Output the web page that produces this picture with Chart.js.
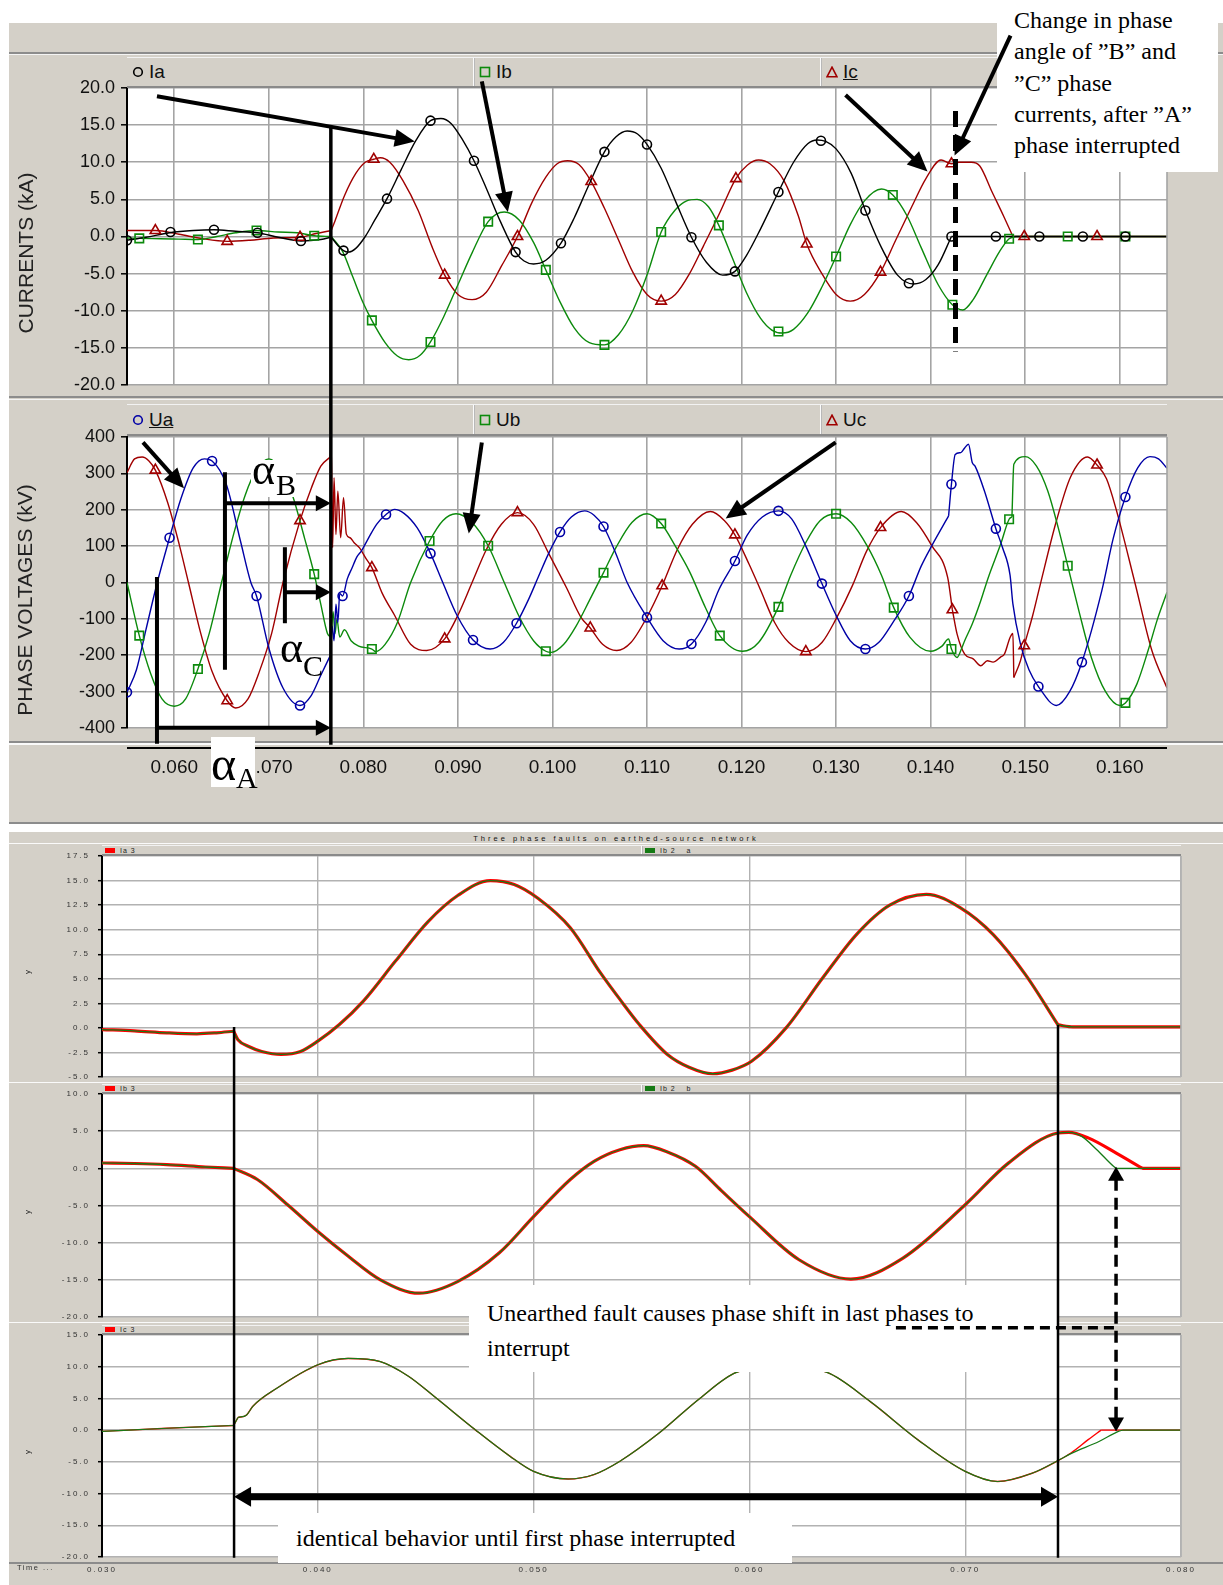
<!DOCTYPE html>
<html lang="en">
<head>
<meta charset="utf-8">
<title>Fault currents and phase voltages</title>
<script src="https://cdn.jsdelivr.net/npm/chart.js@4.4.1/dist/chart.umd.min.js"></script>
<style>
html,body{margin:0;padding:0;background:#fff}
body{position:relative;width:1223px;height:1585px;overflow:hidden;font-family:"Liberation Sans",Arial,sans-serif}
.panel{position:absolute;background:#d4d0c8}
.rule{position:absolute}
canvas.chart{position:absolute;z-index:1}
#overlay{position:absolute;left:0;top:0;z-index:10;pointer-events:none}
.lbar{position:absolute;z-index:2;display:flex;background:#d4d0c8;box-sizing:border-box;border-bottom:2px solid #8a8a8a;border-top:1px solid #f2f2f2}
.lcell{flex:1 1 0;display:flex;align-items:center;box-sizing:border-box;border-left:1px solid #fbfbfb;box-shadow:inset 1px 0 0 #b8b8b8;padding-left:5px;gap:5px;font-size:19px;color:#111;white-space:nowrap;overflow:hidden}
.lcell:first-child{border-left:none;box-shadow:none}
.small .lcell{font-size:7px;gap:5px;padding-left:3px;letter-spacing:1px;color:#222}
.sw{display:inline-block;width:10px;height:5px}
.note{position:absolute;z-index:5;background:#fff;font-family:"Liberation Serif","Times New Roman",serif;font-size:24px;color:#000;box-sizing:border-box;white-space:nowrap}
.vtitle{position:absolute;z-index:3;white-space:nowrap;transform:translate(-50%,-50%) rotate(-90deg);color:#222}
.greek{position:absolute;z-index:6;font-family:"Liberation Serif","Times New Roman",serif;line-height:1;color:#000;white-space:nowrap}
.gbox{position:absolute;z-index:5;background:#fff}
.tiny{position:absolute;z-index:3;font-size:7.5px;letter-spacing:2px;color:#333;white-space:nowrap}
</style>
</head>
<body>
<!-- upper recorder window -->
<div class="panel" style="left:9px;top:23px;width:1214px;height:801px"></div>
<div class="rule" style="left:9px;top:52px;width:1214px;height:2px;background:#8c8c8c"></div>
<div class="rule" style="left:9px;top:54px;width:1214px;height:1px;background:#f4f4f4"></div>
<div class="rule" style="left:9px;top:396px;width:1214px;height:2px;background:#8c8c8c"></div>
<div class="rule" style="left:9px;top:399px;width:1214px;height:1px;background:#f4f4f4"></div>
<div class="rule" style="left:9px;top:741px;width:1214px;height:2px;background:#8c8c8c"></div>
<div class="rule" style="left:9px;top:743px;width:1214px;height:2px;background:#fafafa"></div>
<div class="rule" style="left:127px;top:747px;width:1040px;height:2px;background:#000;z-index:2"></div>
<div class="rule" style="left:9px;top:822px;width:1214px;height:2px;background:#8c8c8c"></div>

<!-- lower simulation window -->
<div class="panel" style="left:9px;top:832px;width:1214px;height:753px"></div>
<div class="rule" style="left:9px;top:843px;width:1214px;height:1px;background:#fafafa"></div>
<div class="rule" style="left:9px;top:1082px;width:1214px;height:1px;background:#fafafa"></div>
<div class="rule" style="left:9px;top:1322px;width:1214px;height:1px;background:#fafafa"></div>
<div class="rule" style="left:9px;top:1562px;width:1214px;height:2px;background:#8c8c8c"></div>

<div class="tiny" style="left:616px;top:838px;transform:translate(-50%,-50%);letter-spacing:3px;color:#111">Three phase faults on earthed-source network</div>
<div class="tiny" style="left:17px;top:1563px;letter-spacing:1.5px">Time ...</div>

<div class="vtitle" style="left:26px;top:253px;font-size:21px">CURRENTS (kA)</div>
<div class="vtitle" style="left:25px;top:600px;font-size:21px">PHASE VOLTAGES (kV)</div>
<div class="vtitle" style="left:27px;top:972px;font-size:8px">y</div>
<div class="vtitle" style="left:27px;top:1212px;font-size:8px">y</div>
<div class="vtitle" style="left:27px;top:1452px;font-size:8px">y</div>

<!-- explanatory notes -->
<div class="note" style="left:997px;top:0;width:221px;height:172px;padding:5px 0 0 17px;line-height:31.3px">Change in phase<br>angle of &#8221;B&#8221; and<br>&#8221;C&#8221; phase<br>currents, after &#8221;A&#8221;<br>phase interrupted</div>
<div class="note" style="left:469px;top:1285px;width:588px;height:87px;padding:11px 0 0 18px;line-height:35px">Unearthed fault causes phase shift in last phases to<br>interrupt</div>
<div class="note" style="left:278px;top:1513px;width:514px;height:50px;padding:0 0 0 18px;line-height:50px">identical behavior until first phase interrupted</div>

<canvas id="overlay" width="1223" height="1585"></canvas>

<script>
// ---------------- recorded currents (kA), time in ms ----------------
const IA_T = [55.0,57.0,59.5,62.0,64.2,66.5,68.8,71.0,73.4,75.5,76.6,77.3,77.9,78.4,79.2,80.2,81.2,82.5,84.0,85.5,87.1,88.2,89.3,90.5,91.7,93.0,94.5,96.1,97.0,98.0,99.3,100.9,102.3,103.8,105.5,106.7,107.9,109.0,110.0,111.5,113.0,114.7,116.3,118.0,119.3,120.5,122.0,123.9,125.5,127.0,128.0,128.9,130.0,131.6,133.1,134.8,136.5,138.2,139.5,140.8,142.2,165.0];
const IA_V = [-0.5,-0.1,0.5,0.8,0.9,0.7,0.5,-0.1,-0.6,-0.4,-0.1,-1.2,-1.9,-2.1,-1.6,0.0,2.2,5.1,9.0,12.8,15.6,15.9,15.2,13.0,10.2,6.5,2.0,-2.1,-3.3,-3.7,-3.2,-0.9,2.5,6.8,11.4,13.4,14.2,13.8,12.4,9.2,4.8,-0.1,-3.5,-5.2,-4.7,-2.6,1.0,6.0,10.0,12.5,13.0,12.8,11.8,8.5,3.5,-1.5,-5.2,-6.4,-5.8,-3.8,0.0,0.0];
const IB_T = [55.0,56.3,58.5,60.5,62.5,64.5,66.5,68.7,71.0,73.0,74.8,76.6,77.8,78.9,80.0,80.9,82.3,83.6,84.8,86.0,87.1,88.5,90.0,91.5,93.2,94.9,96.5,98.0,99.3,100.8,102.3,103.9,105.5,107.0,108.5,110.0,111.5,113.0,114.2,115.3,116.5,117.6,119.0,120.5,122.0,123.2,124.3,125.5,127.0,128.5,130.0,131.5,133.0,134.8,136.0,137.5,139.0,140.8,142.3,143.4,144.5,146.0,147.3,148.3,149.0,165.0];
const IB_V = [-0.2,-0.25,-0.3,-0.35,-0.4,0.0,0.5,0.8,0.6,0.5,0.1,0.0,-2.0,-5.5,-9.0,-11.3,-14.3,-16.1,-16.6,-16.0,-14.2,-10.8,-6.5,-2.2,2.0,3.3,2.2,-0.8,-4.5,-8.8,-12.3,-14.3,-14.6,-13.2,-10.0,-5.2,0.6,3.6,4.8,5.0,4.0,1.5,-2.8,-7.5,-11.0,-12.6,-13.0,-12.5,-10.3,-6.8,-2.7,1.6,4.8,6.4,5.6,2.8,-1.5,-6.5,-9.2,-9.9,-8.5,-5.0,-2.0,-0.3,0.0,0.0];
const IC_T = [55.0,57.0,58.0,60.5,63.0,65.6,68.0,70.5,73.3,75.0,76.6,77.0,78.0,79.2,80.2,81.1,81.8,82.8,84.2,85.8,87.3,88.6,90.0,91.5,93.0,94.6,96.3,97.8,99.3,100.5,101.6,102.8,104.1,105.5,107.0,108.5,110.0,111.5,113.0,114.5,116.0,117.7,119.4,120.6,121.8,123.0,124.5,126.0,126.9,128.5,130.0,131.5,133.0,134.7,136.3,138.0,139.5,141.1,142.2,143.0,144.3,145.2,146.5,147.7,148.7,165.0];
const IC_V = [0.8,0.8,0.8,0.3,-0.3,-0.65,-0.5,-0.2,-0.1,0.4,0.8,2.1,5.5,8.5,10.0,10.4,10.6,10.0,7.5,3.5,-1.5,-5.2,-7.8,-8.5,-7.5,-4.0,0.0,4.5,8.0,9.8,10.2,9.7,7.4,3.8,-0.5,-4.8,-7.8,-8.7,-7.8,-5.0,-1.2,3.2,7.8,9.6,10.3,9.8,7.5,2.8,-1.0,-5.0,-7.8,-8.7,-7.8,-4.8,-0.5,4.0,7.8,10.3,9.8,10.0,10.0,9.5,6.0,2.8,0.0,0.0];
// recorder sample markers
const IA_MARK_T = [55.0,59.6,64.2,68.8,73.4,77.9,82.5,87.1,91.7,96.1,100.9,105.5,110.0,114.7,119.3,123.9,128.4,133.1,137.7,142.2,146.9,151.5,156.1,160.6];
const IA_MARK_V = [-0.5,0.6,0.9,0.5,-0.6,-1.9,5.1,15.6,10.2,-2.1,-0.9,11.4,12.4,-0.1,-4.7,6.0,12.9,3.5,-6.3,0.0,0.0,0.0,0.0,0.0];
const IB_MARK_T = [56.3,62.5,68.7,74.8,80.9,87.1,93.2,99.3,105.5,111.5,117.6,123.9,130.0,136.0,142.3,148.3,154.5,160.6];
const IB_MARK_V = [-0.25,-0.4,0.8,0.1,-11.3,-14.2,2.0,-4.5,-14.6,0.6,1.5,-12.8,-2.7,5.6,-9.2,-0.3,0.0,0.0];
const IC_MARK_T = [58.0,65.6,73.3,81.1,88.6,96.3,104.1,111.5,119.4,126.9,134.7,142.2,149.9,157.6];
const IC_MARK_V = [0.8,-0.65,-0.1,10.4,-5.2,0.0,7.4,-8.7,7.8,-1.0,-4.8,9.8,0.0,0.0];

// ---------------- recorded phase voltages (kV), time in ms ----------------
const UA_T = [55.0,56.0,57.0,58.2,59.5,60.7,62.0,63.2,64.0,65.5,67.0,68.1,68.7,70.0,71.5,73.3,74.5,75.5,76.5,76.7,76.9,77.1,77.3,77.5,77.8,78.3,78.8,79.3,79.8,80.5,81.4,82.4,83.3,84.3,85.7,87.1,88.4,89.9,91.6,93.4,94.8,96.2,97.5,98.5,99.6,100.8,102.0,103.4,104.4,105.4,106.7,107.9,110.0,111.7,113.4,114.7,116.2,117.6,119.3,120.6,122.2,123.9,125.3,126.8,128.5,130.0,131.5,133.1,134.5,136.0,137.7,139.0,140.1,141.9,142.2,142.6,143.2,143.6,144.0,144.4,144.7,145.7,146.9,147.6,148.4,148.7,149.5,150.4,151.4,153.3,154.7,156.0,158.1,159.3,160.6,161.9,163.2,164.1,165.0];
const UA_V = [-302,-240,-130,0,123,230,315,340,334,270,114,0,-37,-180,-290,-338,-310,-255,-201,-120,-160,-60,-110,-30,-37,10,40,70,87,120,160,187,201,190,150,80,0,-90,-158,-183,-165,-112,-45,15,80,139,180,197,185,154,80,0,-96,-160,-183,-169,-110,-20,59,130,180,197,175,100,-3,-90,-160,-183,-165,-110,-37,45,100,183,270,352,357,370,380,330,320,251,148,96,20,-59,-169,-240,-286,-338,-300,-219,-23,120,235,315,346,340,314];
const UB_T = [55.0,56.3,57.5,58.7,60.0,61.2,62.5,63.7,65.0,66.3,67.5,68.7,70.0,71.3,72.5,73.8,74.8,75.5,76.2,76.6,76.8,77.0,77.2,77.5,78.0,78.7,79.5,80.9,81.3,82.3,83.6,85.0,87.0,88.4,89.8,91.5,93.2,94.9,96.5,98.0,99.3,99.9,101.2,102.5,103.9,105.4,106.8,108.4,110.0,111.5,113.0,114.5,116.2,117.7,120.1,121.8,123.9,125.2,126.8,128.3,130.0,131.6,133.3,134.8,136.1,137.8,140.0,141.2,141.9,142.2,142.8,143.3,143.6,144.4,145.3,146.1,147.4,148.3,148.6,148.8,150.0,151.2,152.4,153.5,154.5,155.7,157.0,158.5,160.0,160.6,161.8,163.0,164.0,165.0];
const UB_V = [0,-146,-250,-320,-340,-320,-238,-140,0,135,240,310,340,310,240,120,23,-60,-140,-150,-80,-140,-100,-150,-130,-160,-175,-183,-190,-170,-110,0,114,170,189,165,101,0,-95,-160,-189,-192,-170,-120,-50,27,100,165,189,162,100,30,-70,-146,-189,-165,-67,20,110,170,189,165,100,20,-69,-150,-189,-175,-155,-183,-206,-180,-160,-114,-50,14,105,174,180,325,346,320,251,150,46,-80,-206,-300,-338,-331,-280,-187,-100,-27];
const UC_T = [55.0,55.8,56.6,57.3,58.0,59.3,60.5,61.5,62.8,64.0,65.6,66.5,67.8,69.0,70.3,71.5,73.3,74.5,75.5,76.5,76.6,76.75,76.9,77.1,77.3,77.6,77.9,78.2,78.6,79.0,79.6,80.3,80.9,82.0,83.3,85.0,86.7,88.6,90.0,91.5,93.0,94.6,96.3,98.0,99.6,101.5,103.0,104.0,105.3,106.8,108.3,110.0,111.6,113.2,114.8,116.7,118.2,119.3,120.8,122.0,123.5,125.0,126.8,128.5,130.0,131.7,133.2,134.7,136.9,138.5,140.1,141.8,142.3,142.8,143.6,144.5,145.3,146.0,146.6,147.4,147.8,148.4,148.7,148.8,149.5,149.9,150.8,151.6,153.3,154.8,156.6,157.6,158.6,159.6,161.6,163.4,165.0];
const UC_V = [302,340,345,335,309,220,107,0,-140,-245,-325,-345,-320,-245,-140,0,170,260,320,345,380,96,288,132,251,123,233,133,123,110,95,65,41,-30,-90,-170,-187,-155,-90,0,90,160,192,160,80,-15,-95,-125,-170,-187,-165,-95,-9,90,160,195,170,131,50,-20,-110,-165,-190,-165,-100,-10,85,151,195,165,102,14,-75,-142,-197,-210,-229,-215,-219,-205,-197,-151,-140,-261,-215,-174,-90,-5,169,290,345,323,285,203,0,-187,-290];
const UA_MARK_T = [55.0,59.5,64.0,68.7,73.3,77.8,82.4,87.1,91.6,96.2,100.8,105.4,110.0,114.7,119.3,123.9,128.5,133.1,137.7,142.2,146.9,151.4,156.0,160.6];
const UA_MARK_V = [-302,123,334,-37,-338,-37,187,80,-158,-112,139,154,-96,-169,59,197,-3,-183,-37,270,148,-286,-219,235];
const UB_MARK_T = [56.3,62.5,68.7,74.8,80.9,87.0,93.2,99.3,105.4,111.5,117.7,123.9,130.0,136.1,142.2,148.3,154.5,160.6];
const UB_MARK_V = [-146,-238,310,23,-183,114,101,-189,27,162,-146,-67,189,-69,-183,174,46,-331];
const UC_MARK_T = [58.0,65.6,73.3,80.9,88.6,96.3,104.0,111.6,119.3,126.8,134.7,142.3,149.9,157.6];
const UC_MARK_V = [309,-325,170,41,-155,192,-125,-9,131,-190,151,-75,-174,323];

// ---------------- simulated phase currents (kA), time in ms ----------------
const P1_T = [30.0,31.5,33.0,34.4,35.3,36.1,36.3,36.8,37.4,38.3,39.2,40.0,41.0,42.1,43.6,45.1,46.5,48.0,49.1,50.2,51.7,53.1,54.0,54.9,56.2,57.2,58.3,59.2,60.1,61.7,63.4,65.0,66.5,68.2,69.8,71.3,72.8,74.3,75.0,80.0];
const P1_IA3 = [-0.17,-0.3,-0.5,-0.6,-0.5,-0.34,-1.2,-1.9,-2.4,-2.7,-2.4,-1.35,0.34,2.7,6.8,10.8,13.5,15.0,14.6,13.2,10.2,5.6,2.9,0.34,-2.7,-4.0,-4.67,-4.3,-3.4,0.0,5.1,9.6,12.5,13.6,12.2,9.5,5.4,0.3,0.1,0.1];
const P1_IB2A = [-0.17,-0.3,-0.5,-0.6,-0.5,-0.34,-1.2,-1.9,-2.4,-2.7,-2.4,-1.35,0.34,2.7,6.8,10.8,13.5,15.0,14.6,13.2,10.2,5.6,2.9,0.34,-2.7,-4.0,-4.67,-4.3,-3.4,0.0,5.1,9.6,12.5,13.6,12.2,9.5,5.4,0.3,0.1,0.1];
const P2_RED_T = [30.0,31.5,33.0,34.8,36.1,37.2,38.6,40.0,41.4,42.9,44.7,46.5,48.4,50.0,51.7,52.8,54.0,55.1,56.2,57.5,58.7,60.0,62.3,64.7,67.1,70.0,72.0,74.3,74.8,75.7,77.0,78.1,78.2,80.0];
const P2_RED_V = [0.72,0.65,0.5,0.18,0.0,-1.5,-4.9,-8.5,-11.8,-15.0,-16.8,-15.2,-11.4,-6.5,-1.5,0.94,2.5,3.05,2.2,0.27,-3.0,-6.5,-12.3,-14.9,-12.1,-4.9,0.7,4.75,4.84,4.1,2.06,0.18,0.0,0.0];
const P2_GRN_T = [30.0,31.5,33.0,34.8,36.1,37.2,38.6,40.0,41.4,42.9,44.7,46.5,48.4,50.0,51.7,52.8,54.0,55.1,56.2,57.5,58.7,60.0,62.3,64.7,67.1,70.0,72.0,74.3,74.8,75.4,76.1,76.9,77.0,80.0];
const P2_GRN_V = [0.72,0.65,0.5,0.18,0.0,-1.5,-4.9,-8.5,-11.8,-15.0,-16.8,-15.2,-11.4,-6.5,-1.5,0.94,2.5,3.05,2.2,0.27,-3.0,-6.5,-12.3,-14.9,-12.1,-4.9,0.7,4.75,4.84,4.3,2.5,0.2,0.0,0.0];
const P3_RED_T = [30.0,33.0,36.1,36.3,36.7,37.0,38.1,40.0,41.4,42.9,44.2,45.4,47.3,48.9,50.0,51.6,52.8,54.0,55.8,57.7,59.4,61.5,63.6,65.6,67.8,70.0,71.5,73.1,74.3,74.9,75.7,76.3,80.0];
const P3_RED_V = [-0.2,0.3,0.73,2.0,2.4,3.8,6.6,10.3,11.3,10.8,8.5,5.3,0.05,-4.1,-6.5,-7.7,-7.0,-4.9,-0.5,5.0,9.1,10.0,9.1,4.5,-1.5,-6.5,-8.1,-6.8,-4.8,-3.6,-1.5,0.0,0.0];
const P3_GRN_T = [30.0,33.0,36.1,36.3,36.7,37.0,38.1,40.0,41.4,42.9,44.2,45.4,47.3,48.9,50.0,51.6,52.8,54.0,55.8,57.7,59.4,61.5,63.6,65.6,67.8,70.0,71.5,73.1,74.3,74.9,76.2,77.1,77.3,80.0];
const P3_GRN_V = [-0.2,0.3,0.73,2.0,2.4,3.8,6.6,10.3,11.3,10.8,8.5,5.3,0.05,-4.1,-6.5,-7.7,-7.0,-4.9,-0.5,5.0,9.1,10.0,9.1,4.5,-1.5,-6.5,-8.1,-6.8,-4.8,-3.7,-1.8,-0.2,0.0,0.0];

// switching instants (ms) where a trace has a sharp corner
const IA_CORNERS = [76.6, 142.2];
const IB_CORNERS = [76.6, 149.0];
const IC_CORNERS = [76.6, 148.7];
const UA_CORNERS = [76.5, 141.9];
const UB_CORNERS = [76.6, 148.6];
const UC_CORNERS = [76.5, 142.3, 148.8];
const P1_CORNERS = [36.1, 74.3];
const P2_RED_CORNERS = [36.1, 78.2];
const P2_GRN_CORNERS = [36.1, 77.0];
const P3_RED_CORNERS = [36.1, 36.3, 76.3];
const P3_GRN_CORNERS = [36.1, 36.3, 77.3];

// ---------------- axes ----------------
const TOP_X_TICKS = [60,70,80,90,100,110,120,130,140,150,160];
const CURRENT_TICKS = [20,15,10,5,0,-5,-10,-15,-20];
const VOLTAGE_TICKS = [400,300,200,100,0,-100,-200,-300,-400];
const BOT_X_TICKS = [30,40,50,60,70,80];
const P1_TICKS = [17.5,15,12.5,10,7.5,5,2.5,0,-2.5,-5];
const P2_TICKS = [10,5,0,-5,-10,-15,-20];
const P3_TICKS = [15,10,5,0,-5,-10,-15,-20];

const CURRENT_NAMES = ['Ia','Ib','Ic'];
const VOLTAGE_NAMES = ['Ua','Ub','Uc'];
const SIM_NAMES = [['Ia 3','Ib 2 _ a'],['Ib 3','Ib 2 _ b'],['Ic 3']];

// ---------------- styling ----------------
const COL = { black:'#000000', green:'#0c8a0c', dred:'#a00000', blue:'#0000a6', red:'#ff0000', sgreen:'#157a15' };
const SANS = '"Liberation Sans", Arial, sans-serif';
Chart.defaults.font.family = SANS;
Chart.defaults.animation = false;

const pts = (T, V) => T.map((t, i) => ({ x: t, y: V[i] }));
const line = (T, V, color, width, order) => ({ data: pts(T, V), borderColor: color, borderWidth: width, pointRadius: 0, cubicInterpolationMode: 'monotone', fill: false, order: order || 0 });
// one smooth trace per interval between switching instants, so corners stay sharp
function trace(T, V, color, width, order, corners) {
  const edges = [T[0]].concat(corners || [], [T[T.length - 1]]);
  const out = [];
  for (let k = 0; k < edges.length - 1; k++) {
    const idx = [];
    T.forEach((t, i) => { if (t >= edges[k] && t <= edges[k + 1]) idx.push(i); });
    out.push(line(idx.map(i => T[i]), idx.map(i => V[i]), color, width, order));
  }
  return out;
}
const marks = (T, V, color, style, r) => ({ data: pts(T, V), showLine: false, pointStyle: style, pointRadius: r, pointBorderWidth: 1.6, pointBorderColor: color, pointBackgroundColor: 'rgba(0,0,0,0)', borderColor: color, backgroundColor: 'rgba(0,0,0,0)', order: 0 });

const framePlugin = {
  id: 'frame',
  beforeDraw(c, a, o) {
    const ar = c.chartArea, g = c.ctx;
    g.save(); g.fillStyle = '#fff'; g.fillRect(ar.left, ar.top, ar.right - ar.left, ar.bottom - ar.top); g.restore();
    if (o.spacing) g.letterSpacing = o.spacing;
  },
  afterDraw(c, a, o) {
    const ar = c.chartArea, g = c.ctx;
    g.letterSpacing = '0px';
    g.save(); g.strokeStyle = o.edge || '#a0a0a0'; g.lineWidth = 1.6;
    g.beginPath(); g.moveTo(ar.right, ar.top); g.lineTo(ar.right, ar.bottom); g.stroke();
    g.restore();
  }
};

// label overhang must not shrink the plot rectangle
const noPad = s => { s.paddingLeft = 0; s.paddingRight = 0; s.paddingTop = 0; s.paddingBottom = 0; };

function makeChart(box, plot, o) {
  const cv = document.createElement('canvas');
  cv.className = 'chart';
  cv.width = box.w; cv.height = box.h;
  Object.assign(cv.style, { left: box.x + 'px', top: box.y + 'px', width: box.w + 'px', height: box.h + 'px' });
  document.body.appendChild(cv);
  const yW = plot.x - box.x;
  const xH = (box.y + box.h) - (plot.y + plot.h);
  const chart = new Chart(cv, {
    type: 'line',
    data: { datasets: o.datasets },
    plugins: [framePlugin],
    options: {
      responsive: false, devicePixelRatio: 1, animation: false, events: [],
      layout: { autoPadding: false, padding: { left: 0, top: plot.y - box.y, right: (box.x + box.w) - (plot.x + plot.w), bottom: 0 } },
      plugins: { legend: { display: false }, tooltip: { enabled: false }, frame: { spacing: o.spacing, edge: o.grid } },
      scales: {
        x: {
          type: 'linear', min: o.xMin, max: o.xMax,
          afterBuildTicks: s => { s.ticks = o.xTicks.map(v => ({ value: v })); },
          afterFit: s => { s.height = xH; noPad(s); },
          grid: { color: o.grid, lineWidth: o.gridW, drawTicks: false },
          border: { display: false },
          ticks: { display: o.showX, padding: o.xPad, maxRotation: 0, autoSkip: false, color: o.tickColor, font: { size: o.xFont, lineHeight: 1 }, callback: v => (v / 1000).toFixed(3) }
        },
        y: {
          min: o.yMin, max: o.yMax,
          afterBuildTicks: s => { s.ticks = o.yTicks.map(v => ({ value: v })); },
          afterFit: s => { s.width = yW; noPad(s); },
          grid: { color: o.grid, lineWidth: o.gridW, drawTicks: true, tickColor: '#000', tickLength: o.tickLen, tickWidth: 1.5 },
          border: { display: true, color: '#000', width: 2 },
          ticks: { padding: o.yPad, color: o.tickColor, font: { size: o.yFont, lineHeight: 1 }, callback: o.yFmt }
        }
      }
    }
  });
  return { chart, box };
}

// ---------------- upper window: currents and voltages ----------------
const upper = { xMin: 55, xMax: 165, xTicks: TOP_X_TICKS, grid: '#a4a4a4', gridW: 1.6, tickLen: 6, yPad: 6, yFont: 18, xFont: 19, tickColor: '#111' };
const CUR = makeChart({ x: 9, y: 60, w: 1214, h: 335 }, { x: 127, y: 88, w: 1040, h: 297 }, Object.assign({}, upper, {
  yMin: -20, yMax: 20, yTicks: CURRENT_TICKS, yFmt: v => v.toFixed(1), showX: false, xPad: 0,
  datasets: [
    marks(IA_MARK_T, IA_MARK_V, COL.black, 'circle', 4.5),
    marks(IB_MARK_T, IB_MARK_V, COL.green, 'rect', 6),
    marks(IC_MARK_T, IC_MARK_V, COL.dred, 'triangle', 6)
  ].concat(
    trace(IA_T, IA_V, COL.black, 1.4, 1, IA_CORNERS),
    trace(IB_T, IB_V, COL.green, 1.4, 1, IB_CORNERS),
    trace(IC_T, IC_V, COL.dred, 1.4, 1, IC_CORNERS))
}));
const VOLT = makeChart({ x: 9, y: 410, w: 1214, h: 380 }, { x: 127, y: 437, w: 1040, h: 291 }, Object.assign({}, upper, {
  yMin: -400, yMax: 400, yTicks: VOLTAGE_TICKS, yFmt: v => String(v), showX: true, xPad: 30,
  datasets: [
    marks(UA_MARK_T, UA_MARK_V, COL.blue, 'circle', 4.5),
    marks(UB_MARK_T, UB_MARK_V, COL.green, 'rect', 6),
    marks(UC_MARK_T, UC_MARK_V, COL.dred, 'triangle', 6)
  ].concat(
    trace(UA_T, UA_V, COL.blue, 1.4, 1, UA_CORNERS),
    trace(UB_T, UB_V, COL.green, 1.4, 1, UB_CORNERS),
    trace(UC_T, UC_V, COL.dred, 1.4, 1, UC_CORNERS))
}));

// ---------------- lower window: simulated currents ----------------
const lower = { xMin: 30, xMax: 80, xTicks: BOT_X_TICKS, grid: '#b2b2b2', gridW: 1.4, tickLen: 4, yPad: 8, yFont: 8, xFont: 8, tickColor: '#333', spacing: '2px', yFmt: v => v.toFixed(1) };
const P1 = makeChart({ x: 9, y: 846, w: 1214, h: 238 }, { x: 102, y: 856, w: 1079, h: 221 }, Object.assign({}, lower, {
  yMin: -5, yMax: 17.5, yTicks: P1_TICKS, showX: false, xPad: 0,
  datasets: trace(P1_T, P1_IB2A, COL.sgreen, 1.3, 0, P1_CORNERS).concat(trace(P1_T, P1_IA3, COL.red, 3.2, 1, P1_CORNERS))
}));
const P2 = makeChart({ x: 9, y: 1088, w: 1214, h: 234 }, { x: 102, y: 1094, w: 1079, h: 223 }, Object.assign({}, lower, {
  yMin: -20, yMax: 10, yTicks: P2_TICKS, showX: false, xPad: 0,
  datasets: trace(P2_GRN_T, P2_GRN_V, COL.sgreen, 1.3, 0, P2_GRN_CORNERS).concat(trace(P2_RED_T, P2_RED_V, COL.red, 3.2, 1, P2_RED_CORNERS))
}));
const P3 = makeChart({ x: 9, y: 1326, w: 1214, h: 259 }, { x: 102, y: 1335, w: 1079, h: 222 }, Object.assign({}, lower, {
  yMin: -20, yMax: 15, yTicks: P3_TICKS, showX: true, xPad: 9,
  datasets: trace(P3_GRN_T, P3_GRN_V, COL.sgreen, 1.2, 0, P3_GRN_CORNERS).concat(trace(P3_RED_T, P3_RED_V, COL.red, 1.4, 1, P3_RED_CORNERS))
}));

// ---------------- legend bars ----------------
function shapeSvg(shape, color) {
  const s = { circle: '<circle cx="6" cy="6" r="4.3"/>', rect: '<rect x="1.5" y="1.5" width="9" height="9"/>', triangle: '<polygon points="6,1.2 11,10.8 1,10.8"/>' }[shape];
  return '<svg width="12" height="12" style="flex:none"><g fill="none" stroke="' + color + '" stroke-width="1.6">' + s + '</g></svg>';
}
function legendBar(x, y, w, h, entries, small) {
  const bar = document.createElement('div');
  bar.className = small ? 'lbar small' : 'lbar';
  Object.assign(bar.style, { left: x + 'px', top: y + 'px', width: w + 'px', height: h + 'px' });
  entries.forEach(e => {
    const cell = document.createElement('div');
    cell.className = 'lcell';
    if (e) {
      const key = small ? '<span class="sw" style="background:' + e.color + '"></span>' : shapeSvg(e.shape, e.color);
      cell.innerHTML = key + '<span style="' + (e.under ? 'text-decoration:underline;' : '') + '">' + e.name + '</span>';
    }
    bar.appendChild(cell);
  });
  document.body.appendChild(bar);
}
const SHAPES = ['circle', 'rect', 'triangle'];
legendBar(127, 57, 1040, 31, CURRENT_NAMES.map((n, i) => ({ name: n, shape: SHAPES[i], color: [COL.black, COL.green, COL.dred][i], under: i === 2 })));
legendBar(127, 404, 1040, 32, VOLTAGE_NAMES.map((n, i) => ({ name: n, shape: SHAPES[i], color: [COL.blue, COL.green, COL.dred][i], under: i === 0 })));
const simBars = [[845, 11], [1084, 10], [1325, 10]];
SIM_NAMES.forEach((names, k) => {
  const entries = [0, 1].map(i => names[i] ? { name: names[i], color: i === 0 ? COL.red : COL.sgreen, under: i === (k === 0 ? 1 : 0) } : null);
  legendBar(102, simBars[k][0], 1079, simBars[k][1], entries, true);
});

// ---------------- phase angle labels ----------------
function greek(text, size, left, baseline) {
  const d = document.createElement('div');
  d.className = 'greek';
  d.textContent = text;
  Object.assign(d.style, { left: left + 'px', top: (baseline - 0.8375 * size) + 'px', fontSize: size + 'px' });
  document.body.appendChild(d);
}
function gbox(l, t, w, h) {
  const d = document.createElement('div');
  d.className = 'gbox';
  Object.assign(d.style, { left: l + 'px', top: t + 'px', width: w + 'px', height: h + 'px' });
  document.body.appendChild(d);
}
gbox(251, 460, 45, 37); greek('α', 44, 252, 485); greek('B', 30, 276, 495);
greek('α', 44, 280, 663); greek('C', 30, 303, 676);
gbox(211, 737, 44, 50); greek('α', 48, 211, 780); greek('A', 30, 236, 788);

// ---------------- annotation arrows ----------------
const ov = document.getElementById('overlay');
const g = ov.getContext('2d');
const P = (c, t, v) => ({ x: c.box.x + c.chart.scales.x.getPixelForValue(t), y: c.box.y + c.chart.scales.y.getPixelForValue(v) });
function head(from, to, len, half) {
  const a = Math.atan2(to.y - from.y, to.x - from.x), c = Math.cos(a), s = Math.sin(a);
  g.beginPath();
  g.moveTo(to.x, to.y);
  g.lineTo(to.x - len * c + half * s, to.y - len * s - half * c);
  g.lineTo(to.x - len * c - half * s, to.y - len * s + half * c);
  g.closePath(); g.fill();
}
function arrow(a, b, o) {
  const ang = Math.atan2(b.y - a.y, b.x - a.x), c = Math.cos(ang), s = Math.sin(ang);
  const cut = o.head ? o.head - 2 : 0;
  const end = o.head ? { x: b.x - cut * c, y: b.y - cut * s } : b;
  const start = o.both ? { x: a.x + cut * c, y: a.y + cut * s } : a;
  g.save();
  g.strokeStyle = '#000'; g.fillStyle = '#000'; g.lineWidth = o.w; g.lineCap = 'butt';
  g.setLineDash(o.dash || []);
  g.beginPath(); g.moveTo(start.x, start.y); g.lineTo(end.x, end.y); g.stroke();
  g.setLineDash([]);
  if (o.head) head(a, b, o.head, o.half);
  if (o.head && o.both) head(b, a, o.head, o.half);
  g.restore();
}
const FAULT_MS = 76.56;
const big = { w: 4, head: 20, half: 9 };
const alpha = { w: 4, head: 15, half: 8 };
// current window
arrow(P(CUR, 58.17, 18.9), P(CUR, 85.44, 12.8), big);
arrow(P(CUR, 92.53, 20.9), P(CUR, 95.28, 3.3), big);
arrow(P(CUR, 131.0, 19.05), P(CUR, 139.67, 8.75), big);
arrow(P(CUR, 148.45, 27.05), P(CUR, 142.53, 10.9), big);
arrow(P(CUR, 142.63, 16.9), P(CUR, 142.63, -15.5), { w: 5, dash: [16, 8] });
arrow(P(CUR, FAULT_MS, 14.85), P(VOLT, FAULT_MS, -446), { w: 3.5 });
// voltage window
arrow(P(VOLT, 56.69, 385), P(VOLT, 61.03, 259), big);
arrow(P(VOLT, 92.53, 385), P(VOLT, 91.15, 135), big);
arrow(P(VOLT, 129.95, 385), P(VOLT, 118.32, 176), big);
arrow(P(VOLT, 65.36, 303), P(VOLT, 65.36, -240), { w: 4 });
arrow(P(VOLT, 65.36, 218), P(VOLT, FAULT_MS, 218), alpha);
arrow(P(VOLT, 71.70, 97), P(VOLT, 71.70, -112), { w: 4 });
arrow(P(VOLT, 71.70, -27), P(VOLT, FAULT_MS, -27), alpha);
arrow(P(VOLT, 58.17, 15), P(VOLT, 58.17, -443), { w: 4 });
arrow(P(VOLT, 58.17, -399), P(VOLT, FAULT_MS, -399), alpha);
// simulation window
arrow(P(P1, 36.12, 0.1), P(P3, 36.12, -20.1), { w: 2.5 });
arrow(P(P1, 74.30, 0.3), P(P3, 74.30, -20.1), { w: 2.5 });
arrow(P(P3, 36.12, -10.5), P(P3, 74.30, -10.5), { w: 7, head: 17, half: 10, both: true });
arrow(P(P2, 66.79, -21.45), P(P2, 76.99, -21.45), { w: 3.5, dash: [10, 6] });
arrow(P(P2, 76.99, 0.2), P(P3, 76.99, -0.2), { w: 3.5, dash: [12, 7], head: 14, half: 8, both: true });
</script>
</body>
</html>
